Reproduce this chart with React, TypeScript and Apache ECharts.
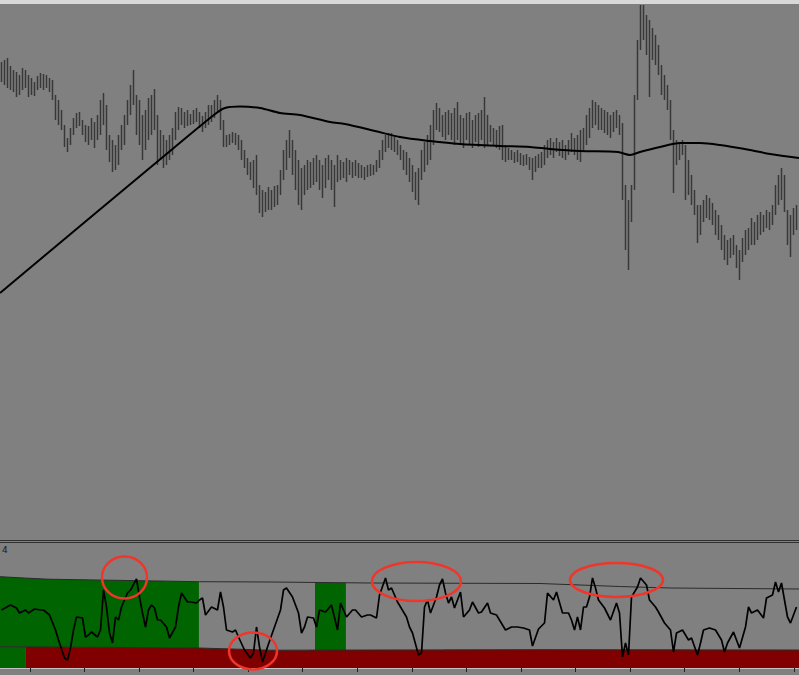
import React, { useEffect, useRef } from "react";
import * as echarts from "echarts";

// ---- Price bars (bar index 0..265), values in price points ----
const highs = [
  478, 480, 482, 474, 470, 468, 465, 472, 470, 465,
  462, 458, 464, 467, 466, 465, 462, 460, 445, 440,
  430, 415, 402, 412, 422, 427, 428, 420, 415, 414,
  422, 418, 425, 440, 447, 435, 405, 400, 395, 405,
  415, 425, 440, 455, 470, 445, 440, 425, 430, 442,
  445, 451, 425, 410, 405, 400, 405, 412, 428, 433,
  432, 428, 430, 426, 430, 432, 428, 424, 428, 435,
  435, 440, 445, 440, 420, 405, 406, 408, 407, 405,
  400, 390, 382, 378, 380, 385, 355, 350, 348, 353,
  350, 354, 355, 370, 390, 400, 410, 400, 390, 380,
  372, 375, 380, 378, 382, 385, 380, 375, 382, 385,
  380, 375, 385, 380, 378, 382, 380, 378, 380, 377,
  375, 373, 375, 376, 375, 380, 390, 400, 405, 407,
  407, 403, 400, 395, 390, 388, 382, 375, 368, 372,
  390, 398, 405, 415, 430, 437, 432, 425, 428, 430,
  427, 432, 438, 425, 422, 427, 428, 420, 425, 427,
  430, 443, 425, 415, 412, 410, 414, 415, 395, 392,
  390, 388, 390, 387, 385, 386, 383, 382, 384, 386,
  388, 395, 400, 402, 398, 402, 398, 400, 395, 400,
  407, 402, 405, 410, 412, 425, 432, 440, 438, 435,
  432, 430, 428, 425, 428, 430, 425, 417, 355, 340,
  355, 445, 500, 535, 535, 525, 520, 512, 505, 495,
  475, 465, 455, 440, 410, 400, 398, 400, 395, 380,
  365, 350, 335, 335, 340, 345, 342, 337, 330, 325,
  315, 305, 300, 302, 305, 295, 290, 302, 310, 312,
  322, 318, 325, 328, 325, 330, 328, 335, 355, 365,
  372, 365, 330, 325, 332, 335,
];
const lows = [
  458, 455, 452, 450, 448, 443, 445, 450, 452, 443,
  445, 444, 450, 452, 450, 452, 448, 440, 420, 415,
  410, 393, 388, 395, 405, 412, 414, 405, 398, 395,
  400, 392, 400, 405, 415, 390, 378, 368, 370, 375,
  390, 395, 415, 425, 435, 405, 395, 380, 390, 400,
  405, 410, 375, 380, 372, 375, 380, 385, 400, 410,
  415, 412, 414, 415, 416, 418, 412, 408, 412, 415,
  418, 422, 428, 410, 393, 393, 395, 397, 395, 390,
  380, 372, 365, 360, 352, 345, 327, 323, 328, 330,
  330, 333, 335, 345, 360, 370, 382, 365, 350, 335,
  330, 345, 350, 352, 355, 358, 350, 342, 352, 360,
  350, 333, 358, 360, 362, 358, 365, 362, 364, 362,
  362, 360, 363, 364, 365, 368, 372, 380, 388, 392,
  390, 388, 385, 380, 370, 365, 358, 348, 340, 335,
  360, 368, 375, 380, 395, 410, 408, 403, 400, 405,
  400, 395, 400, 397, 392, 400, 395, 392, 398, 393,
  400, 392, 395, 398, 395, 392, 390, 380, 378, 380,
  380, 377, 378, 375, 374, 375, 370, 360, 368, 372,
  372, 375, 382, 385, 382, 388, 384, 382, 380, 385,
  388, 385, 380, 378, 390, 395, 402, 412, 415, 410,
  410, 407, 405, 402, 408, 412, 405, 340, 290, 270,
  318, 350, 440, 490, 500, 485, 443, 480, 475, 465,
  445, 440, 430, 400, 347, 375, 380, 385, 340, 345,
  335, 325, 297, 305, 318, 322, 320, 315, 305, 300,
  290, 280, 275, 282, 285, 272, 260, 278, 285, 290,
  295, 295, 300, 305, 308, 312, 310, 315, 325, 335,
  340, 328, 295, 283, 305, 310,
];

// ---- Moving average [bar index, price] ----
const movingAverage = [
  [-0.5, 247], [27.8, 318], [56.2, 389], [71.2, 426], [74.5, 432], [79.5, 433.5],
  [86.2, 432], [92.8, 427], [99.5, 425], [109.5, 418], [114.5, 416], [124.5, 409],
  [132.8, 403], [142.8, 399], [152.8, 396], [166.2, 394], [176.2, 393], [182.8, 391],
  [192.8, 389], [205.5, 388], [209.5, 385], [212.8, 388], [219.5, 393], [226.2, 397],
  [232.8, 397], [239.5, 395], [249.5, 390], [256.2, 386], [265.84, 382],
];

// ---- Oscillator [bar index, value] ----
const oscillator = [
  [0, 58], [3, 63], [5, 60], [6, 55], [8, 58], [9, 55], [11, 59], [13, 58], [14, 58], [16, 53],
  [18, 38], [19, 28], [21, 10], [22, 8], [23, 20], [24, 38], [25, 51], [27, 50], [28, 31], [29, 33],
  [30, 36], [32, 31], [33, 38], [34, 78], [35, 61], [36, 35], [37, 25], [38, 51], [39, 48], [40, 61],
  [42, 75], [43, 78], [45, 89], [46, 71], [47, 55], [48, 41], [49, 58], [50, 63], [51, 60], [52, 48],
  [53, 48], [55, 41], [56, 30], [58, 41], [59, 61], [60, 75], [62, 66], [63, 66], [65, 65], [66, 68],
  [67, 70], [68, 53], [70, 61], [72, 58], [73, 76], [74, 61], [75, 38], [77, 36], [78, 38], [79, 31],
  [81, 18], [83, 10], [84, 15], [85, 41], [86, 21], [87, 6], [88, 15], [89, 24], [91, 41], [93, 58],
  [94, 78], [95, 80], [97, 71], [99, 55], [100, 35], [101, 41], [102, 51], [104, 50], [105, 41], [106, 58],
  [108, 56], [110, 63], [112, 38], [113, 65], [115, 51], [117, 58], [118, 58], [120, 51], [122, 53], [123, 53],
  [125, 50], [126, 73], [128, 90], [129, 78], [130, 80], [132, 66], [133, 61], [135, 51], [136, 41], [137, 35],
  [139, 13], [140, 15], [141, 61], [142, 68], [143, 55], [145, 71], [146, 83], [147, 89], [148, 75], [149, 65],
  [150, 71], [151, 60], [153, 76], [154, 51], [156, 58], [157, 66], [159, 55], [160, 56], [162, 65], [163, 55],
  [165, 53], [166, 48], [168, 38], [170, 41], [172, 41], [174, 40], [176, 38], [177, 22], [179, 39], [181, 45],
  [182, 75], [184, 68], [185, 76], [187, 55], [189, 55], [190, 48], [191, 38], [192, 51], [193, 38], [194, 61],
  [195, 61], [196, 71], [197, 90], [198, 80], [199, 68], [201, 60], [203, 48], [205, 65], [206, 55], [207, 11],
  [208, 25], [209, 13], [210, 71], [212, 81], [213, 90], [215, 83], [216, 68], [218, 61], [219, 56], [221, 45],
  [223, 38], [224, 16], [225, 35], [227, 38], [229, 28], [230, 30], [232, 13], [233, 25], [234, 38], [236, 40],
  [238, 38], [240, 28], [241, 16], [242, 25], [244, 36], [245, 28], [246, 20], [248, 41], [249, 61], [250, 55],
  [252, 58], [254, 50], [255, 70], [257, 73], [258, 86], [259, 76], [260, 85], [262, 51], [263, 45], [265, 61],
];

// ---- Oscillator level bands [bar index, value] ----
const upperBand = [
  [-0.5, 91.3], [8, 89.9], [15.5, 88.8], [66, 86.3], [89.5, 86], [123, 85],
  [179.5, 84.5], [206, 81.5], [223, 80], [265.84, 79],
];
const lowerBand = [
  [-0.5, 21.3], [66, 20], [89.5, 17.8], [179.5, 18.3], [265.84, 18],
];

// ---- Zones [start bar, end bar] ----
const greenZones = [[-0.5, 65.8], [104.5, 114.8]];
const lowerGreenZones = [[-0.5, 8.1]];
const lowerRedZones = [[8.1, 265.84]];

// ---- Time-axis tick positions (bar index) ----
const timeTicks = [9.5, 27.7, 45.9, 64.0, 82.2, 100.4, 118.6, 136.8, 155.0, 173.1, 191.3, 209.5, 227.7, 245.9, 264.1];

const X_MIN = -0.5;
const X_MAX = 799 / 3 - 0.5;

function interp(pts: number[][], x: number): number {
  if (x <= pts[0][0]) return pts[0][1];
  for (let k = 1; k < pts.length; k++) {
    if (x <= pts[k][0]) {
      const [x0, y0] = pts[k - 1];
      const [x1, y1] = pts[k];
      return y0 + ((y1 - y0) * (x - x0)) / (x1 - x0);
    }
  }
  return pts[pts.length - 1][1];
}

export default function App() {
  const ref = useRef<HTMLDivElement>(null);
  useEffect(() => {
    if (!ref.current) return;
    const chart = echarts.init(ref.current, undefined, { renderer: "svg" });

    const barData = highs.map((h, i) => [i, h, lows[i]]);
    const zoneData = [
      ...greenZones.map((z) => [z[0], z[1], 0]),
      ...lowerGreenZones.map((z) => [z[0], z[1], 1]),
      ...lowerRedZones.map((z) => [z[0], z[1], 2]),
    ];
    const zoneColors = ["#006400", "#006400", "#800000"];

    chart.setOption({
      animation: false,
      backgroundColor: "#808080",
      grid: [
        { left: 0, right: 0, top: 5, height: 535 },
        { left: 0, right: 0, top: 543, height: 125 },
      ],
      xAxis: [
        { type: "value", gridIndex: 0, min: X_MIN, max: X_MAX, show: false },
        {
          type: "value",
          gridIndex: 1,
          min: X_MIN,
          max: X_MAX,
          axisLine: { show: true, lineStyle: { color: "#c4c4c4", width: 1 } },
          axisTick: { show: true, length: 4, customValues: timeTicks, lineStyle: { color: "#222", width: 1 } },
          axisLabel: { show: false },
          splitLine: { show: false },
        },
      ],
      yAxis: [
        { type: "value", gridIndex: 0, min: 0, max: 535, show: false },
        { type: "value", gridIndex: 1, min: 0, max: 125, show: false },
      ],
      series: [
        {
          type: "custom",
          name: "bars",
          xAxisIndex: 0,
          yAxisIndex: 0,
          data: barData,
          encode: { x: 0, y: [1, 2] },
          clip: true,
          renderItem: (params: any, api: any) => {
            const i = api.value(0);
            const p1 = api.coord([i, api.value(1)]);
            const p2 = api.coord([i, api.value(2)]);
            return {
              type: "line",
              shape: { x1: p1[0], y1: p1[1], x2: p2[0], y2: p2[1] },
              style: { stroke: "#383838", lineWidth: 1.5 },
            };
          },
        },
        {
          type: "line",
          name: "MA",
          xAxisIndex: 0,
          yAxisIndex: 0,
          data: movingAverage,
          smooth: 0.3,
          symbol: "none",
          lineStyle: { color: "#000", width: 2 },
          z: 3,
        },
        {
          type: "custom",
          name: "zones",
          xAxisIndex: 1,
          yAxisIndex: 1,
          data: zoneData,
          encode: { x: [0, 1], y: 2 },
          renderItem: (params: any, api: any) => {
            const s = api.value(0);
            const e = api.value(1);
            const k = api.value(2);
            const top = k === 0 ? upperBand : lowerBand;
            const pts: number[][] = [];
            const xs: number[] = [];
            for (let x = s; x < e; x += 1) xs.push(x);
            xs.push(e);
            xs.forEach((x) => pts.push(api.coord([x, interp(top, x)])));
            for (let j = xs.length - 1; j >= 0; j--) {
              const x = xs[j];
              pts.push(api.coord([x, k === 0 ? interp(lowerBand, x) : 0]));
            }
            return {
              type: "polygon",
              shape: { points: pts },
              style: { fill: zoneColors[k] },
            };
          },
          z: 1,
        },
        {
          type: "line",
          name: "upper",
          xAxisIndex: 1,
          yAxisIndex: 1,
          data: upperBand,
          symbol: "none",
          lineStyle: { color: "#2a2a2a", width: 1 },
          z: 2,
        },
        {
          type: "line",
          name: "lower",
          xAxisIndex: 1,
          yAxisIndex: 1,
          data: lowerBand,
          symbol: "none",
          lineStyle: { color: "#2a2a2a", width: 1 },
          z: 2,
        },
        {
          type: "line",
          name: "osc",
          xAxisIndex: 1,
          yAxisIndex: 1,
          data: oscillator,
          symbol: "none",
          lineStyle: { color: "#000", width: 1.7 },
          z: 3,
        },
      ],
      graphic: [
        { type: "rect", left: 0, top: 0, shape: { x: 0, y: 0, width: 799, height: 4 }, style: { fill: "#d8d8d8" }, z: 50 },
        { type: "line", shape: { x1: 0, y1: 540.5, x2: 799, y2: 540.5 }, style: { stroke: "#303030", lineWidth: 1 }, z: 50 },
        { type: "line", shape: { x1: 0, y1: 542.5, x2: 799, y2: 542.5 }, style: { stroke: "#303030", lineWidth: 1 }, z: 50 },
        { type: "text", x: 2, y: 545, style: { text: "4", fontSize: 9, fill: "#1a1a1a", fontFamily: "DejaVu Sans" }, z: 50 },
        { type: "ellipse", shape: { cx: 124.5, cy: 577.5, rx: 22.5, ry: 21 }, style: { fill: "none", stroke: "#f0352a", lineWidth: 2.5 }, z: 60 },
        { type: "ellipse", shape: { cx: 253, cy: 651, rx: 24, ry: 18.5 }, style: { fill: "none", stroke: "#f0352a", lineWidth: 2.5 }, z: 60 },
        { type: "ellipse", shape: { cx: 416.5, cy: 581.5, rx: 44.5, ry: 19.5 }, style: { fill: "none", stroke: "#f0352a", lineWidth: 2.5 }, z: 60 },
        { type: "ellipse", shape: { cx: 616.5, cy: 580, rx: 46.5, ry: 17 }, style: { fill: "none", stroke: "#f0352a", lineWidth: 2.5 }, z: 60 },
      ],
    });
    return () => chart.dispose();
  }, []);
  return <div ref={ref} style={{ position: "fixed", left: 0, top: 0, width: 799, height: 675 }} />;
}
